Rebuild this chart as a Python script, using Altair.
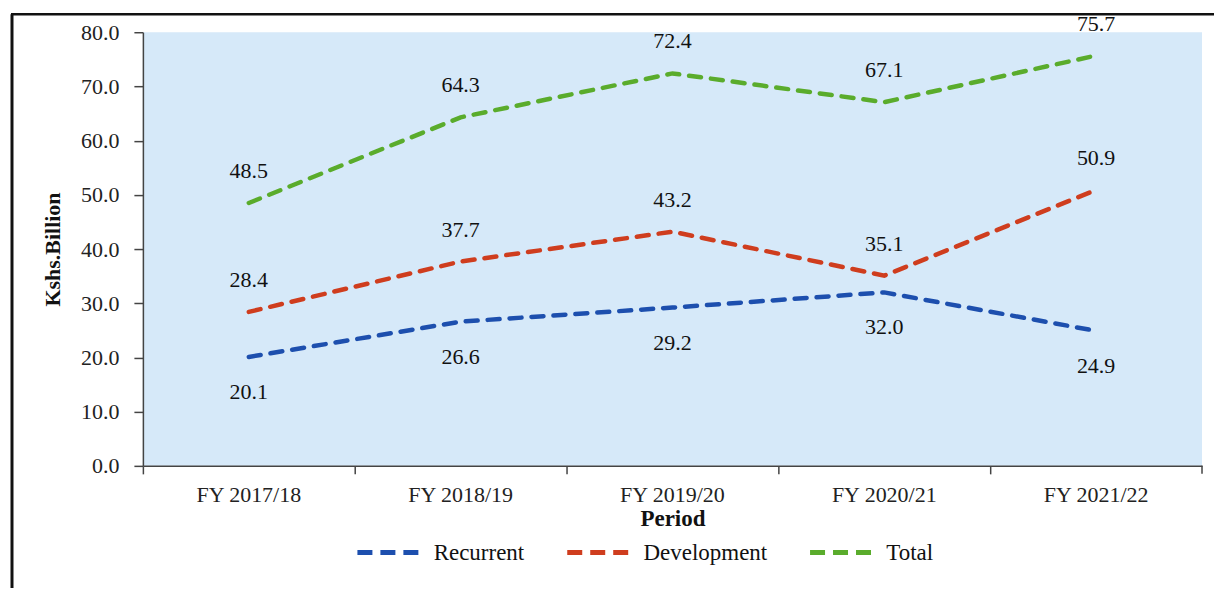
import altair as alt
import pandas as pd

periods = ["FY 2017/18", "FY 2018/19", "FY 2019/20", "FY 2020/21", "FY 2021/22"]
recurrent = [20.1, 26.6, 29.2, 32.0, 24.9]
development = [28.4, 37.7, 43.2, 35.1, 50.9]
total = [48.5, 64.3, 72.4, 67.1, 75.7]
series_names = ["Recurrent", "Development", "Total"]
series_colors = ["#1d4fae", "#cf3d1e", "#5aac2c"]
y_ticks = [0, 10, 20, 30, 40, 50, 60, 70, 80]

rows = []
for name, vals in zip(series_names, [recurrent, development, total]):
    for p, v in zip(periods, vals):
        rows.append({"Period": p, "Series": name, "Value": v})
df = pd.DataFrame(rows)

FONT = "Liberation Serif, Times New Roman, serif"
W, H = 1060, 434

x_enc = alt.X(
    "Period:N",
    sort=periods,
    scale=alt.Scale(type="band", paddingInner=0, paddingOuter=0),
    axis=alt.Axis(
        title="Period",
        titleFont=FONT, titleFontSize=23, titleFontWeight="bold", titleColor="#111",
        titlePadding=2,
        labelFont=FONT, labelFontSize=22, labelColor="#222", labelPadding=11,
        labelAngle=0,
        bandPosition=0, tickSize=8, tickColor="#444", domainColor="#444",
        domainWidth=1.5, tickWidth=1.5, grid=False,
    ),
)
y_enc = alt.Y(
    "Value:Q",
    scale=alt.Scale(domain=[0, 80], nice=False, zero=True),
    axis=alt.Axis(
        title="Kshs.Billion", values=y_ticks, format=".1f",
        titleFont=FONT, titleFontSize=22, titleFontWeight="bold", titleColor="#111",
        titlePadding=16,
        labelFont=FONT, labelFontSize=22, labelColor="#222", labelPadding=15,
        tickSize=9, tickColor="#444", domainColor="#444",
        domainWidth=1.5, tickWidth=1.5, grid=False,
    ),
)
color_enc = alt.Color(
    "Series:N",
    sort=series_names,
    scale=alt.Scale(domain=series_names, range=series_colors),
    legend=alt.Legend(
        title=None, orient="none", direction="horizontal",
        legendX=212, legendY=485,
        symbolType="stroke", symbolSize=4300, symbolStrokeWidth=5,
        symbolDash=[15, 8], symbolDashOffset=0,
        labelFont=FONT, labelFontSize=23, labelColor="#111",
        columnPadding=32, labelOffset=8,
    ),
)

base = alt.Chart(df)

lines = base.mark_line(
    strokeWidth=4.5, strokeDash=[12, 10], strokeCap="round"
).encode(x=x_enc, y=y_enc, color=color_enc, detail="Series:N")

labels_above = base.transform_filter(
    alt.datum.Series != "Recurrent"
).mark_text(font=FONT, fontSize=22, color="#111", dy=-32).encode(
    x=alt.X("Period:N", sort=periods), y="Value:Q", text=alt.Text("Value:Q", format=".1f")
)
labels_below = base.transform_filter(
    alt.datum.Series == "Recurrent"
).mark_text(font=FONT, fontSize=22, color="#111", dy=35).encode(
    x=alt.X("Period:N", sort=periods), y="Value:Q", text=alt.Text("Value:Q", format=".1f")
)

end_tick = alt.Chart(pd.DataFrame({"k": [0]})).mark_rule(color="#444", strokeWidth=1.5).encode(
    x=alt.value(W), y=alt.value(H), y2=alt.value(H + 8)
)
left_border = alt.Chart(pd.DataFrame({"k": [0]})).mark_rule(color="#111", strokeWidth=3).encode(
    x=alt.value(-131), y=alt.value(-18), y2=alt.value(H + 130)
)
top_border = alt.Chart(pd.DataFrame({"k": [0]})).mark_rule(color="#111", strokeWidth=2.5).encode(
    x=alt.value(-132), x2=alt.value(W + 20), y=alt.value(-18)
)

chart = alt.layer(
    lines, labels_above, labels_below, end_tick, left_border, top_border
).properties(
    width=W, height=H,
    autosize=alt.AutoSizeParams(type="none"),
    padding={"left": 135, "top": 24, "right": 12, "bottom": 122},
).configure(
    font=FONT,
    view=alt.ViewConfig(fill="#d6e9f9", stroke=None),
    text=alt.MarkConfig(font=FONT),
    legend=alt.LegendConfig(labelFont=FONT),
)

chart.save("out.html", embed_options={"renderer": "svg", "actions": False})
